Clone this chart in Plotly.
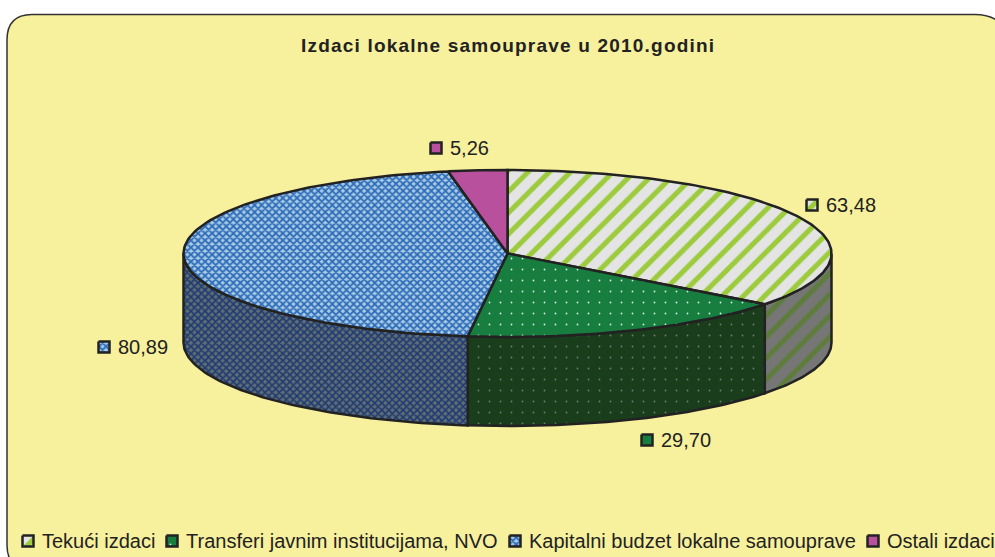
import numpy as np
import plotly.graph_objects as go

# ---- data ----
categories = ["Tekući izdaci", "Transferi javnim institucijama, NVO",
              "Kapitalni budzet lokalne samouprave", "Ostali izdaci"]
values = [63.48, 29.70, 80.89, 5.26]
value_labels = ["63,48", "29,70", "80,89", "5,26"]
title_text = "Izdaci lokalne samouprave u 2010.godini"

# ---- styles ----
top_styles = [
    dict(shape="/", bgcolor="#E4E4E4", fgcolor="#9CCB3C", size=15, solidity=0.34, fgopacity=1),
    dict(shape=".", bgcolor="#177E40", fgcolor="#D8EFE0", size=11, solidity=0.02, fgopacity=1),
    dict(shape="x", bgcolor="#A9CBE2", fgcolor="#2F6DBB", size=5, solidity=0.6, fgopacity=1),
    dict(shape="", bgcolor="#B8509E", fgcolor="#B8509E", size=8, solidity=0.5, fgopacity=1),
]
side_styles = [
    dict(shape="/", bgcolor="#767676", fgcolor="#5E7C3C", size=15, solidity=0.34, fgopacity=1),
    dict(shape=".", bgcolor="#1A3D1C", fgcolor="#6E7E70", size=11, solidity=0.02, fgopacity=1),
    dict(shape="x", bgcolor="#5E6E72", fgcolor="#1F3A74", size=5, solidity=0.55, fgopacity=1),
    dict(shape="", bgcolor="#6A2C5A", fgcolor="#6A2C5A", size=8, solidity=0.5, fgopacity=1),
]
INK = "#222222"
PANEL = "#F7F09C"
CX, CY, RX, RY, DEPTH = 507.5, 253.5, 324.0, 83.5, 89.0
label_keys = [(812, 205), (647, 440), (104, 347), (436, 148)]
legend_keys = [(28, 541), (172, 541), (515, 541), (873, 541)]
FONT = "Liberation Sans"


def ellipse(a):
    return CX + RX * np.sin(a), CY - RY * np.cos(a)


fig = go.Figure()


def polygon(xs, ys, pattern, width=2.5):
    fig.add_trace(go.Scatter(
        x=xs, y=ys, mode="lines", fill="toself",
        fillcolor=pattern["bgcolor"],
        fillpattern=pattern if pattern["shape"] else None,
        line=dict(color=INK, width=width),
        hoverinfo="skip", showlegend=False))


total = sum(values)
edges = np.radians(np.concatenate([[0], np.cumsum(values) / total * 360]))

# side walls: only the part of each slice on the front half of the cylinder
for i in range(len(values)):
    lo, hi = max(edges[i], np.pi / 2), min(edges[i + 1], 3 * np.pi / 2)
    if hi <= lo:
        continue
    a = np.linspace(lo, hi, 80)
    x, y = ellipse(a)
    polygon(np.r_[x, x[::-1], x[0]], np.r_[y, y[::-1] + DEPTH, y[0]], side_styles[i])

# top face
for i in range(len(values)):
    a = np.linspace(edges[i], edges[i + 1], 120)
    x, y = ellipse(a)
    polygon(np.r_[CX, x, CX], np.r_[CY, y, CY], top_styles[i])


def swatch(cx, cy, pattern):
    h = 5.5
    polygon([cx - h, cx + h, cx + h, cx - h, cx - h],
            [cy - h, cy - h, cy + h, cy + h, cy - h], pattern, width=2.5)


annotations = []


def text(x, y, s, size=20, anchor="left"):
    annotations.append(dict(
        x=x, y=y, xref="x", yref="y", text=s,
        showarrow=False, xanchor=anchor, yanchor="middle",
        font=dict(family=FONT, size=size, color="#222222")))


for i, (kx, ky) in enumerate(label_keys):
    swatch(kx, ky, top_styles[i])
    text(kx + 12, ky, value_labels[i])

for i, (kx, ky) in enumerate(legend_keys):
    swatch(kx, ky, top_styles[i])
    text(kx + 11.5, ky, categories[i])

text(507.5, 45, f'<b><span style="letter-spacing:1.2px">{title_text}</span></b>', size=19, anchor="center")

panel_path = ("M 7,40 Q 7,14.5 32,14.5 L 975,14.5 Q 990,14.5 999,22 "
              "L 999,570 L 32,570 Q 7,570 7,545 Z")

fig.update_layout(
    width=995, height=557,
    margin=dict(l=0, r=0, t=0, b=0),
    paper_bgcolor="white", plot_bgcolor="white",
    xaxis=dict(range=[0, 995], visible=False, fixedrange=True),
    yaxis=dict(range=[557, 0], visible=False, fixedrange=True),
    shapes=[dict(type="path", path=panel_path, xref="x", yref="y", layer="below",
                 fillcolor=PANEL, line=dict(color="#333333", width=1.5))],
    annotations=annotations,
    showlegend=False,
)

fig.write_html("out.html", config=dict(displayModeBar=False),
               post_script="document.body.style.margin='0';document.body.style.overflow='hidden';")
